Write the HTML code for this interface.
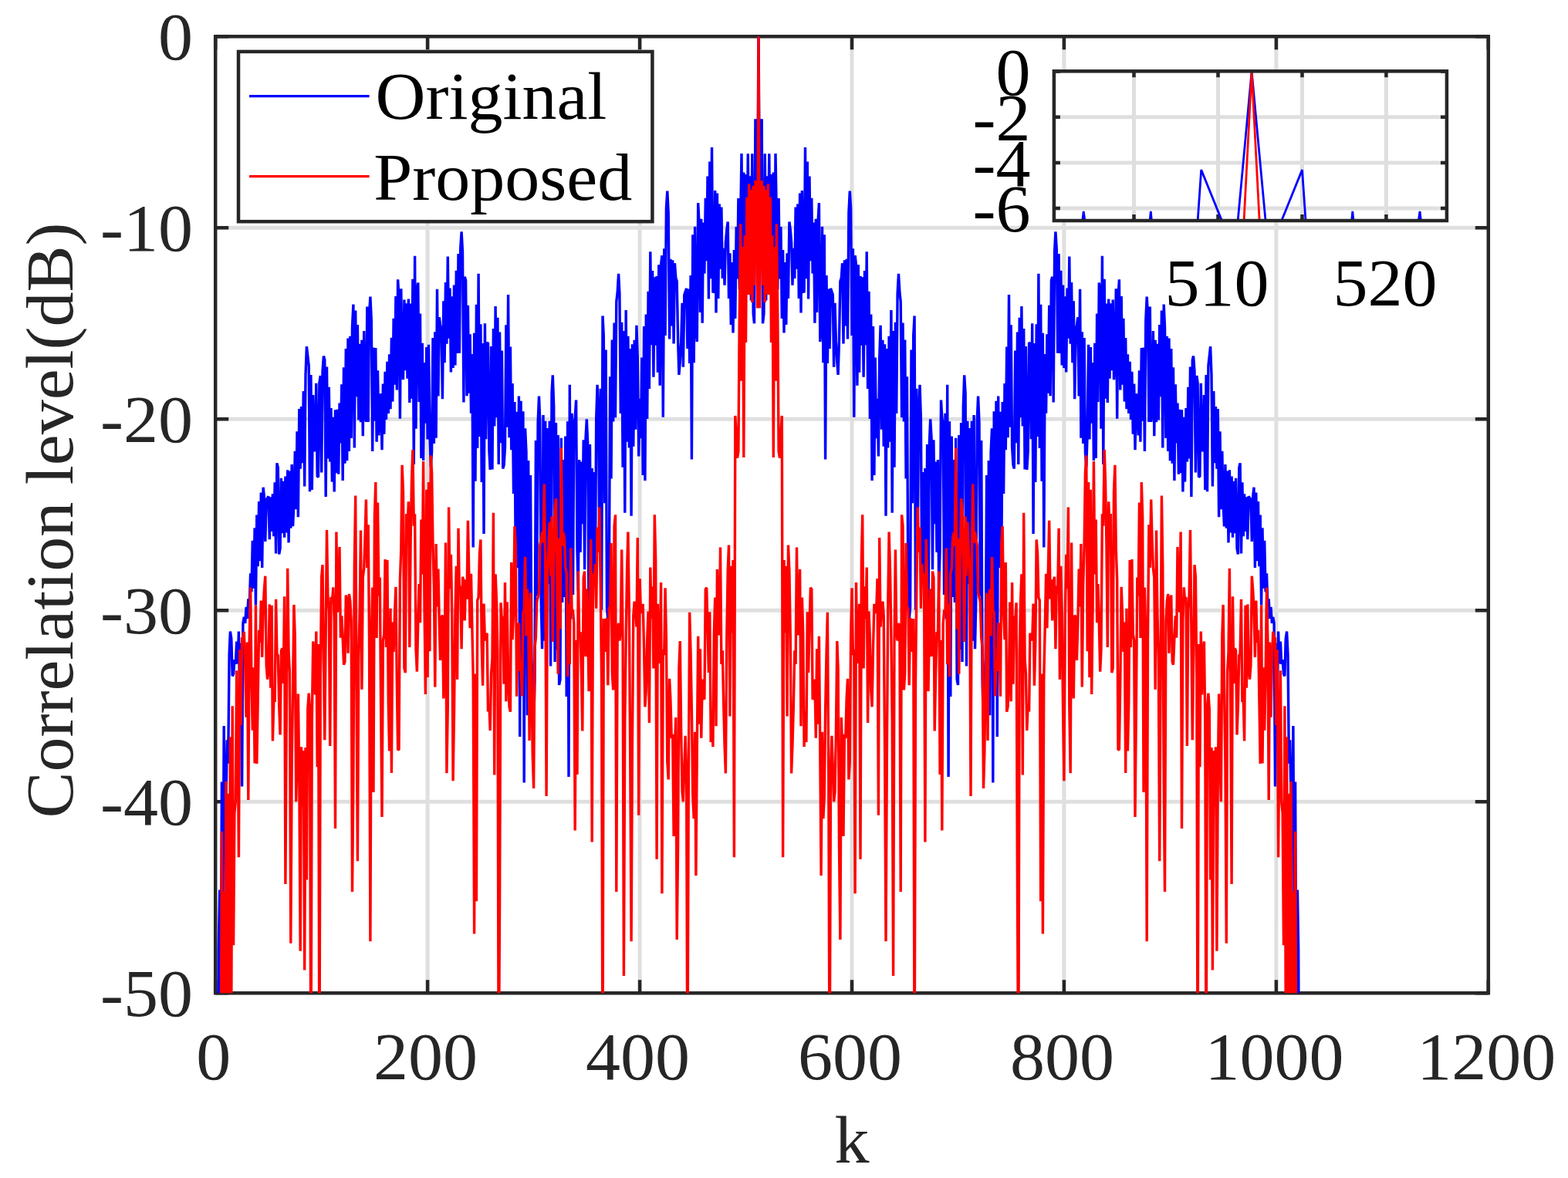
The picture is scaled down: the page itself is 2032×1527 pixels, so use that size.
<!DOCTYPE html>
<html><head><meta charset="utf-8"><title>Correlation level</title>
<style>
html,body{margin:0;padding:0;background:#fff;overflow:hidden;}
svg{display:block;}
text{font-family:"Liberation Serif","Times New Roman",serif;}
</style></head><body>
<svg width="2032" height="1527" viewBox="0 0 2032 1527">
<rect width="2032" height="1527" fill="#fff"/>
<defs><clipPath id="c1"><rect x="279.2" y="47.3" width="1649.6" height="1240.0"/></clipPath><clipPath id="c2"><rect x="1365.9" y="92.3" width="509.0" height="193.7"/></clipPath><filter id="bl" x="-2%" y="-2%" width="104%" height="104%"><feGaussianBlur stdDeviation="0.6"/></filter></defs>
<path d="M554.1 47.3V1287.3M829.1 47.3V1287.3M1104.0 47.3V1287.3M1378.9 47.3V1287.3M1653.9 47.3V1287.3M279.2 295.3H1928.8M279.2 543.3H1928.8M279.2 791.3H1928.8M279.2 1039.3H1928.8" stroke="#dfdfdf" stroke-width="5.0" fill="none"/>
<path d="M279.2 1287.3v-17M279.2 47.3v17M554.1 1287.3v-17M554.1 47.3v17M829.1 1287.3v-17M829.1 47.3v17M1104.0 1287.3v-17M1104.0 47.3v17M1378.9 1287.3v-17M1378.9 47.3v17M1653.9 1287.3v-17M1653.9 47.3v17M1928.8 1287.3v-17M1928.8 47.3v17M279.2 47.3h17M1928.8 47.3h-17M279.2 295.3h17M1928.8 295.3h-17M279.2 543.3h17M1928.8 543.3h-17M279.2 791.3h17M1928.8 791.3h-17M279.2 1039.3h17M1928.8 1039.3h-17M279.2 1287.3h17M1928.8 1287.3h-17" stroke="#262626" stroke-width="4.5" fill="none"/>
<rect x="279.2" y="47.3" width="1649.6" height="1240.0" fill="none" stroke="#262626" stroke-width="4.5"/>
<g clip-path="url(#c1)"><g filter="url(#bl)" fill="none" stroke-width="3.4" stroke-linejoin="miter" stroke-miterlimit="2">
<polyline stroke="#0000ff" points="280.6,1606.3 281.9,1590.3 283.3,1231.9 284.7,1153.5 286.1,1360.7 287.4,1013.4 288.8,1196.1 290.2,941.0 291.6,1097.6 292.9,1039.3 294.3,959.4 295.7,989.7 297.1,848.1 298.4,818.6 299.8,828.0 301.2,876.3 302.6,873.8 303.9,855.2 305.3,860.8 306.7,831.6 308.1,860.3 309.4,818.6 310.8,915.3 312.2,833.7 313.6,1019.5 314.9,808.0 316.3,799.9 317.7,808.0 319.1,786.8 320.4,801.9 321.8,776.4 323.2,786.6 324.6,743.3 325.9,767.3 327.3,700.9 328.7,762.8 330.1,684.4 331.4,784.5 332.8,667.4 334.2,734.3 335.6,650.1 336.9,727.2 338.3,638.6 339.7,736.0 341.1,631.7 342.4,644.2 343.8,702.0 345.2,648.1 346.6,645.3 347.9,643.4 349.3,699.2 350.7,644.2 352.1,689.0 353.4,640.4 354.8,695.1 356.2,625.4 357.6,717.5 358.9,600.3 360.3,606.1 361.7,718.5 363.1,710.8 364.4,619.7 365.8,691.3 367.2,623.7 368.6,696.8 369.9,617.6 371.3,690.4 372.7,609.4 374.1,703.4 375.4,610.5 376.8,684.8 378.2,602.0 379.6,682.3 380.9,652.5 382.3,584.7 383.7,660.1 385.0,559.2 386.4,670.2 387.8,530.1 389.2,607.8 390.5,527.0 391.9,600.3 393.3,507.1 394.7,630.4 396.0,486.0 397.4,449.1 398.8,461.4 400.2,474.2 401.5,637.2 402.9,485.9 404.3,635.1 405.7,512.0 407.0,585.1 408.4,581.8 409.8,496.8 411.2,617.2 412.5,618.4 413.9,496.1 415.3,487.0 416.7,612.4 418.0,481.2 419.4,461.5 420.8,466.6 422.2,644.0 423.5,475.4 424.9,594.5 426.3,501.8 427.7,598.6 429.0,529.1 430.4,624.6 431.8,540.8 433.2,637.5 434.5,531.3 435.9,613.3 437.3,530.7 438.7,614.6 440.0,522.6 441.4,574.5 442.8,498.3 444.2,622.9 445.5,476.2 446.9,600.8 448.3,452.0 449.7,597.2 451.0,438.6 452.4,584.9 453.8,435.7 455.2,568.0 456.5,423.6 457.9,394.5 459.3,580.6 460.7,402.4 462.0,514.3 463.4,421.1 464.8,544.5 466.2,445.7 467.5,547.2 468.9,440.8 470.3,565.3 471.7,429.1 473.0,536.0 474.4,546.8 475.8,397.4 477.2,547.0 478.5,407.5 479.9,384.6 481.3,415.2 482.7,585.1 484.0,450.5 485.4,545.6 486.8,451.0 488.1,572.8 489.5,480.3 490.9,564.4 492.3,523.5 493.6,510.2 495.0,583.1 496.4,497.5 497.8,562.7 499.1,481.9 500.5,543.9 501.9,468.9 503.3,536.0 504.6,459.3 506.0,530.2 507.4,437.9 508.8,520.6 510.1,412.8 511.5,498.8 512.9,384.0 514.3,505.6 515.6,362.3 517.0,385.5 518.4,542.7 519.8,374.3 521.1,470.2 522.5,492.2 523.9,388.5 525.3,480.1 526.6,393.2 528.0,490.7 529.4,387.4 530.8,522.1 532.1,393.4 533.5,516.7 534.9,361.7 536.3,602.0 537.6,331.8 539.0,555.7 540.4,376.2 541.8,366.6 543.1,520.9 544.5,406.5 545.9,594.1 547.3,444.8 548.6,597.1 550.0,470.1 551.4,548.6 552.8,450.0 554.1,569.5 555.5,446.7 556.9,561.1 558.3,605.3 559.6,585.6 561.0,437.9 562.4,575.1 563.8,430.3 565.1,567.8 566.5,374.7 567.9,513.4 569.3,411.3 570.6,422.0 572.0,427.2 573.4,517.2 574.8,390.3 576.1,470.2 577.5,366.0 578.9,445.8 580.3,332.5 581.6,438.7 583.0,373.4 584.4,482.6 585.8,384.3 587.1,477.1 588.5,369.5 589.9,473.4 591.3,350.7 592.6,458.0 594.0,329.1 595.4,457.8 596.7,322.3 598.1,300.3 599.5,326.7 600.9,521.4 602.2,358.8 603.6,363.5 605.0,513.3 606.4,395.8 607.7,509.6 609.1,433.3 610.5,535.7 611.9,459.1 613.2,709.5 614.6,431.7 616.0,623.8 617.4,394.7 618.7,580.9 620.1,354.8 621.5,566.0 622.9,420.3 624.2,625.1 625.6,444.9 627.0,692.1 628.4,419.3 629.7,569.3 631.1,444.2 632.5,445.2 633.9,584.8 635.2,608.9 636.6,448.9 638.0,608.5 639.4,426.0 640.7,552.4 642.1,397.0 643.5,541.3 644.9,411.7 646.2,602.1 647.6,430.4 649.0,574.2 650.4,454.5 651.7,607.6 653.1,602.8 654.5,579.4 655.9,421.2 657.2,553.7 658.6,382.1 660.0,567.2 661.4,449.6 662.7,583.3 664.1,497.0 665.5,640.0 666.9,521.0 668.2,725.1 669.6,533.7 671.0,736.1 672.4,513.5 673.7,955.0 675.1,519.8 676.5,856.2 677.9,533.3 679.2,1014.5 680.6,555.3 682.0,585.7 683.4,927.3 684.7,597.1 686.1,862.2 687.5,616.1 688.9,853.9 690.2,882.2 691.6,940.1 693.0,881.2 694.4,571.1 695.7,772.8 697.1,548.0 698.5,513.5 699.8,546.1 701.2,779.7 702.6,841.3 704.0,537.9 705.3,830.8 706.7,545.8 708.1,771.9 709.5,555.1 710.8,757.1 712.2,545.7 713.6,863.4 715.0,509.8 716.3,486.3 717.7,526.3 719.1,858.1 720.5,548.0 721.8,841.9 723.2,563.9 724.6,888.0 726.0,880.8 727.3,567.8 728.7,781.0 730.1,596.0 731.5,774.1 732.8,565.5 734.2,902.9 735.6,546.2 737.0,1007.1 738.3,498.7 739.7,802.5 741.1,535.8 742.5,770.9 743.8,550.6 745.2,541.0 746.6,518.5 748.0,712.7 749.3,766.5 750.7,596.0 752.1,715.9 753.5,598.5 754.8,679.2 756.2,570.3 757.6,738.3 759.0,567.8 760.3,543.3 761.7,573.7 763.1,811.5 764.5,576.1 765.8,784.5 767.2,607.1 768.6,749.3 770.0,612.1 771.3,752.4 772.7,542.4 774.1,498.7 775.5,543.2 776.8,705.7 778.2,503.8 779.6,790.6 781.0,409.4 782.3,435.0 783.7,652.2 785.1,453.4 786.5,787.4 787.8,802.5 789.2,782.1 790.6,488.2 792.0,620.6 793.3,440.4 794.7,546.4 796.1,418.6 797.5,541.3 798.8,390.8 800.2,378.8 801.6,354.8 802.9,380.1 804.3,535.9 805.7,417.8 807.1,605.7 808.4,428.9 809.8,664.8 811.2,401.9 812.6,572.7 813.9,435.8 815.3,580.4 816.7,451.9 818.1,668.7 819.4,446.3 820.8,578.7 822.2,440.8 823.6,556.7 824.9,421.8 826.3,463.8 827.7,591.5 829.1,516.7 830.4,568.1 831.8,463.5 833.2,615.9 834.6,423.0 835.9,623.0 837.3,407.5 838.7,543.0 840.1,377.8 841.4,503.9 842.8,326.3 844.2,447.3 845.6,350.9 846.9,488.8 848.3,359.3 849.7,447.6 851.1,357.9 852.4,482.7 853.8,343.2 855.2,499.8 856.6,343.1 857.9,331.2 859.3,540.8 860.7,322.2 862.1,434.9 863.4,269.9 864.8,247.7 866.2,275.6 867.6,439.6 868.9,335.7 870.3,422.5 871.7,337.2 873.1,445.5 874.4,341.2 875.8,360.4 877.2,364.6 878.6,440.7 879.9,485.9 881.3,468.9 882.7,442.9 884.1,392.8 885.4,475.8 886.8,382.1 888.2,378.0 889.6,373.9 890.9,451.9 892.3,374.4 893.7,470.9 895.1,356.9 896.4,595.4 897.8,304.3 899.2,470.3 900.6,293.8 901.9,424.9 903.3,443.1 904.7,263.1 906.0,288.2 907.4,404.9 908.8,283.8 910.2,418.7 911.5,288.5 912.9,354.6 914.3,256.7 915.7,338.1 917.0,228.5 918.4,387.4 919.8,209.4 921.2,361.3 922.5,191.1 923.9,378.0 925.3,378.3 926.7,246.9 928.0,405.4 929.4,250.4 930.8,387.1 932.2,264.4 933.5,348.8 934.9,268.6 936.3,361.0 937.7,321.7 939.0,369.8 940.4,314.2 941.8,297.9 943.2,287.4 944.5,386.9 945.9,328.3 947.3,420.9 948.7,340.1 950.0,431.4 951.4,323.9 952.8,412.9 954.2,294.1 955.5,361.4 956.9,257.1 958.3,375.3 959.7,282.9 961.0,199.1 962.4,357.3 963.8,223.4 965.2,382.1 966.5,225.9 967.9,357.3 969.3,199.3 970.7,332.5 972.0,228.3 973.4,389.5 974.8,199.3 976.2,406.9 977.5,419.3 978.9,154.2 980.3,199.3 981.7,244.5 983.0,47.3 984.4,244.5 985.8,199.3 987.2,154.2 988.5,419.3 989.9,406.9 991.3,199.3 992.7,389.5 994.0,228.3 995.4,332.5 996.8,199.3 998.2,357.3 999.5,225.9 1000.9,382.1 1002.3,223.4 1003.7,357.3 1005.0,199.1 1006.4,282.9 1007.8,375.3 1009.1,257.1 1010.5,361.4 1011.9,294.1 1013.3,412.9 1014.6,323.9 1016.0,431.4 1017.4,340.1 1018.8,420.9 1020.1,328.3 1021.5,386.9 1022.9,287.4 1024.3,297.9 1025.6,314.2 1027.0,369.8 1028.4,321.7 1029.8,361.0 1031.1,268.6 1032.5,348.8 1033.9,264.4 1035.3,387.1 1036.6,250.4 1038.0,405.4 1039.4,246.9 1040.8,378.3 1042.1,378.0 1043.5,191.1 1044.9,361.3 1046.3,209.4 1047.6,387.4 1049.0,228.5 1050.4,338.1 1051.8,256.7 1053.1,354.6 1054.5,288.5 1055.9,418.7 1057.3,283.8 1058.6,404.9 1060.0,288.2 1061.4,263.1 1062.8,443.1 1064.1,424.9 1065.5,293.8 1066.9,470.3 1068.3,304.3 1069.6,595.4 1071.0,356.9 1072.4,470.9 1073.8,374.4 1075.1,451.9 1076.5,373.9 1077.9,378.0 1079.3,382.1 1080.6,475.8 1082.0,392.8 1083.4,442.9 1084.8,468.9 1086.1,485.9 1087.5,440.7 1088.9,364.6 1090.3,360.4 1091.6,341.2 1093.0,445.5 1094.4,337.2 1095.8,422.5 1097.1,335.7 1098.5,439.6 1099.9,275.6 1101.3,247.7 1102.6,269.9 1104.0,434.9 1105.4,322.2 1106.8,540.8 1108.1,331.2 1109.5,343.1 1110.9,499.8 1112.3,343.2 1113.6,482.7 1115.0,357.9 1116.4,447.6 1117.7,359.3 1119.1,488.8 1120.5,350.9 1121.9,447.3 1123.2,326.3 1124.6,503.9 1126.0,377.8 1127.4,543.0 1128.7,407.5 1130.1,623.0 1131.5,423.0 1132.9,615.9 1134.2,463.5 1135.6,568.1 1137.0,516.7 1138.4,591.5 1139.7,463.8 1141.1,421.8 1142.5,556.7 1143.9,440.8 1145.2,578.7 1146.6,446.3 1148.0,668.7 1149.4,451.9 1150.7,580.4 1152.1,435.8 1153.5,572.7 1154.9,401.9 1156.2,664.8 1157.6,428.9 1159.0,605.7 1160.4,417.8 1161.7,535.9 1163.1,380.1 1164.5,354.8 1165.9,378.8 1167.2,390.8 1168.6,541.3 1170.0,418.6 1171.4,546.4 1172.7,440.4 1174.1,620.6 1175.5,488.2 1176.9,782.1 1178.2,802.5 1179.6,787.4 1181.0,453.4 1182.4,652.2 1183.7,435.0 1185.1,409.4 1186.5,790.6 1187.9,503.8 1189.2,705.7 1190.6,543.2 1192.0,498.7 1193.4,542.4 1194.7,752.4 1196.1,612.1 1197.5,749.3 1198.9,607.1 1200.2,784.5 1201.6,576.1 1203.0,811.5 1204.4,573.7 1205.7,543.3 1207.1,567.8 1208.5,738.3 1209.9,570.3 1211.2,679.2 1212.6,598.5 1214.0,715.9 1215.4,596.0 1216.7,766.5 1218.1,712.7 1219.5,518.5 1220.8,541.0 1222.2,550.6 1223.6,770.9 1225.0,535.8 1226.3,802.5 1227.7,498.7 1229.1,1007.1 1230.5,546.2 1231.8,902.9 1233.2,565.5 1234.6,774.1 1236.0,596.0 1237.3,781.0 1238.7,567.8 1240.1,880.8 1241.5,888.0 1242.8,563.9 1244.2,841.9 1245.6,548.0 1247.0,858.1 1248.3,526.3 1249.7,486.3 1251.1,509.8 1252.5,863.4 1253.8,545.7 1255.2,757.1 1256.6,555.1 1258.0,771.9 1259.3,545.8 1260.7,830.8 1262.1,537.9 1263.5,841.3 1264.8,779.7 1266.2,546.1 1267.6,513.5 1269.0,548.0 1270.3,772.8 1271.7,571.1 1273.1,881.2 1274.5,940.1 1275.8,882.2 1277.2,853.9 1278.6,616.1 1280.0,862.2 1281.3,597.1 1282.7,927.3 1284.1,585.7 1285.5,555.3 1286.8,1014.5 1288.2,533.3 1289.6,856.2 1291.0,519.8 1292.3,955.0 1293.7,513.5 1295.1,736.1 1296.5,533.7 1297.8,725.1 1299.2,521.0 1300.6,640.0 1302.0,497.0 1303.3,583.3 1304.7,449.6 1306.1,567.2 1307.5,382.1 1308.8,553.7 1310.2,421.2 1311.6,579.4 1313.0,602.8 1314.3,607.6 1315.7,454.5 1317.1,574.2 1318.5,430.4 1319.8,602.1 1321.2,411.7 1322.6,541.3 1323.9,397.0 1325.3,552.4 1326.7,426.0 1328.1,608.5 1329.4,448.9 1330.8,608.9 1332.2,584.8 1333.6,445.2 1334.9,444.2 1336.3,569.3 1337.7,419.3 1339.1,692.1 1340.4,444.9 1341.8,625.1 1343.2,420.3 1344.6,566.0 1345.9,354.8 1347.3,580.9 1348.7,394.7 1350.1,623.8 1351.4,431.7 1352.8,709.5 1354.2,459.1 1355.6,535.7 1356.9,433.3 1358.3,509.6 1359.7,395.8 1361.1,513.3 1362.4,363.5 1363.8,358.8 1365.2,521.4 1366.6,326.7 1367.9,300.3 1369.3,322.3 1370.7,457.8 1372.1,329.1 1373.4,458.0 1374.8,350.7 1376.2,473.4 1377.6,369.5 1378.9,477.1 1380.3,384.3 1381.7,482.6 1383.1,373.4 1384.4,438.7 1385.8,332.5 1387.2,445.8 1388.6,366.0 1389.9,470.2 1391.3,390.3 1392.7,517.2 1394.1,427.2 1395.4,422.0 1396.8,411.3 1398.2,513.4 1399.6,374.7 1400.9,567.8 1402.3,430.3 1403.7,575.1 1405.1,437.9 1406.4,585.6 1407.8,605.3 1409.2,561.1 1410.6,446.7 1411.9,569.5 1413.3,450.0 1414.7,548.6 1416.1,470.1 1417.4,597.1 1418.8,444.8 1420.2,594.1 1421.6,406.5 1422.9,520.9 1424.3,366.6 1425.7,376.2 1427.0,555.7 1428.4,331.8 1429.8,602.0 1431.2,361.7 1432.5,516.7 1433.9,393.4 1435.3,522.1 1436.7,387.4 1438.0,490.7 1439.4,393.2 1440.8,480.1 1442.2,388.5 1443.5,492.2 1444.9,470.2 1446.3,374.3 1447.7,542.7 1449.0,385.5 1450.4,362.3 1451.8,505.6 1453.2,384.0 1454.5,498.8 1455.9,412.8 1457.3,520.6 1458.7,437.9 1460.0,530.2 1461.4,459.3 1462.8,536.0 1464.2,468.9 1465.5,543.9 1466.9,481.9 1468.3,562.7 1469.7,497.5 1471.0,583.1 1472.4,510.2 1473.8,523.5 1475.2,564.4 1476.5,480.3 1477.9,572.8 1479.3,451.0 1480.7,545.6 1482.0,450.5 1483.4,585.1 1484.8,415.2 1486.2,384.6 1487.5,407.5 1488.9,547.0 1490.3,397.4 1491.7,546.8 1493.0,536.0 1494.4,429.1 1495.8,565.3 1497.2,440.8 1498.5,547.2 1499.9,445.7 1501.3,544.5 1502.7,421.1 1504.0,514.3 1505.4,402.4 1506.8,580.6 1508.2,394.5 1509.5,423.6 1510.9,568.0 1512.3,435.7 1513.7,584.9 1515.0,438.6 1516.4,597.2 1517.8,452.0 1519.2,600.8 1520.5,476.2 1521.9,622.9 1523.3,498.3 1524.7,574.5 1526.0,522.6 1527.4,614.6 1528.8,530.7 1530.1,613.3 1531.5,531.3 1532.9,637.5 1534.3,540.8 1535.6,624.6 1537.0,529.1 1538.4,598.6 1539.8,501.8 1541.1,594.5 1542.5,475.4 1543.9,644.0 1545.3,466.6 1546.6,461.5 1548.0,481.2 1549.4,612.4 1550.8,487.0 1552.1,496.1 1553.5,618.4 1554.9,617.2 1556.3,496.8 1557.6,581.8 1559.0,585.1 1560.4,512.0 1561.8,635.1 1563.1,485.9 1564.5,637.2 1565.9,474.2 1567.3,461.4 1568.6,449.1 1570.0,486.0 1571.4,630.4 1572.8,507.1 1574.1,600.3 1575.5,527.0 1576.9,607.8 1578.3,530.1 1579.6,670.2 1581.0,559.2 1582.4,660.1 1583.8,584.7 1585.1,652.5 1586.5,682.3 1587.9,602.0 1589.3,684.8 1590.6,610.5 1592.0,703.4 1593.4,609.4 1594.8,690.4 1596.1,617.6 1597.5,696.8 1598.9,623.7 1600.3,691.3 1601.6,619.7 1603.0,710.8 1604.4,718.5 1605.8,606.1 1607.1,600.3 1608.5,717.5 1609.9,625.4 1611.3,695.1 1612.6,640.4 1614.0,689.0 1615.4,644.2 1616.8,699.2 1618.1,643.4 1619.5,645.3 1620.9,648.1 1622.3,702.0 1623.6,644.2 1625.0,631.7 1626.4,736.0 1627.8,638.6 1629.1,727.2 1630.5,650.1 1631.9,734.3 1633.2,667.4 1634.6,784.5 1636.0,684.4 1637.4,762.8 1638.7,700.9 1640.1,767.3 1641.5,743.3 1642.9,786.6 1644.2,776.4 1645.6,801.9 1647.0,786.8 1648.4,808.0 1649.7,799.9 1651.1,808.0 1652.5,1019.5 1653.9,833.7 1655.2,915.3 1656.6,818.6 1658.0,860.3 1659.4,831.6 1660.7,860.8 1662.1,855.2 1663.5,873.8 1664.9,876.3 1666.2,828.0 1667.6,818.6 1669.0,848.1 1670.4,989.7 1671.7,959.4 1673.1,1039.3 1674.5,1097.6 1675.9,941.0 1677.2,1196.1 1678.6,1013.4 1680.0,1360.7 1681.4,1153.5 1682.7,1231.9 1684.1,1590.3 1685.5,1606.3"/>
<polyline stroke="#ff0000" points="280.6,1597.3 281.9,1783.3 283.3,1485.7 284.7,1373.5 286.1,1436.1 287.4,1077.8 288.8,1336.9 290.2,1155.8 291.6,1411.3 292.9,1012.9 294.3,1336.9 295.7,1028.7 297.1,1312.1 298.4,955.2 299.8,1312.1 301.2,915.2 302.6,1225.3 303.9,1053.9 305.3,1039.3 306.7,869.2 308.1,941.2 309.4,1111.2 310.8,842.2 312.2,940.1 313.6,827.6 314.9,825.6 316.3,818.8 317.7,860.1 319.1,929.8 320.4,832.5 321.8,1037.0 323.2,829.1 324.6,761.5 325.9,873.7 327.3,946.8 328.7,865.3 330.1,989.6 331.4,784.6 332.8,989.9 334.2,906.4 335.6,816.8 336.9,832.9 338.3,778.6 339.7,851.9 341.1,789.3 342.4,763.8 343.8,746.7 345.2,862.9 346.6,880.6 347.9,865.3 349.3,783.4 350.7,891.8 352.1,784.8 353.4,960.5 354.8,908.8 356.2,908.6 357.6,776.7 358.9,846.9 360.3,849.8 361.7,915.3 363.1,952.5 364.4,843.7 365.8,840.2 367.2,886.0 368.6,773.2 369.9,1145.9 371.3,928.5 372.7,736.7 374.1,845.9 375.4,870.9 376.8,1222.8 378.2,986.7 379.6,892.1 380.9,783.9 382.3,825.9 383.7,1039.3 385.0,989.5 386.4,899.4 387.8,1008.4 389.2,1232.7 390.5,968.2 391.9,1045.2 393.3,972.9 394.7,1257.5 396.0,969.0 397.4,1140.5 398.8,919.3 400.2,898.7 401.5,917.7 402.9,1411.3 404.3,936.5 405.7,831.5 407.0,845.8 408.4,900.5 409.8,818.6 411.2,994.2 412.5,835.0 413.9,1411.3 415.3,877.7 416.7,747.9 418.0,732.2 419.4,857.7 420.8,959.2 422.2,819.5 423.5,687.1 424.9,772.5 426.3,790.8 427.7,967.0 429.0,773.9 430.4,780.7 431.8,761.3 433.2,803.7 434.5,1074.0 435.9,689.6 437.3,793.6 438.7,784.2 440.0,709.1 441.4,826.7 442.8,798.4 444.2,827.9 445.5,861.8 446.9,857.9 448.3,771.5 449.7,778.5 451.0,846.8 452.4,769.9 453.8,779.0 455.2,805.3 456.5,1155.9 457.9,1014.5 459.3,733.6 460.7,642.5 462.0,885.8 463.4,1116.2 464.8,852.2 466.2,790.7 467.5,687.4 468.9,893.8 470.3,748.6 471.7,736.5 473.0,698.4 474.4,647.5 475.8,735.9 477.2,680.2 478.5,827.8 479.9,1220.3 481.3,824.9 482.7,761.5 484.0,1026.9 485.4,670.3 486.8,625.1 488.1,827.1 489.5,651.4 490.9,772.6 492.3,748.5 493.6,914.7 495.0,1059.1 496.4,830.1 497.8,822.1 499.1,725.0 500.5,839.0 501.9,726.0 503.3,910.7 504.6,973.5 506.0,788.7 507.4,1002.1 508.8,806.6 510.1,844.9 511.5,795.8 512.9,760.8 514.3,880.6 515.6,972.3 517.0,971.2 518.4,752.5 519.8,711.8 521.1,602.8 522.5,637.2 523.9,866.0 525.3,872.1 526.6,666.0 528.0,686.2 529.4,650.3 530.8,838.9 532.1,702.0 533.5,623.8 534.9,583.0 536.3,681.8 537.6,666.2 539.0,841.3 540.4,870.7 541.8,806.2 543.1,757.1 544.5,807.3 545.9,673.6 547.3,744.4 548.6,597.9 550.0,785.4 551.4,900.0 552.8,634.7 554.1,878.1 555.5,624.9 556.9,844.2 558.3,590.4 559.6,612.5 561.0,705.7 562.4,761.3 563.8,890.5 565.1,705.0 566.5,786.5 567.9,737.5 569.3,809.2 570.6,856.0 572.0,800.2 573.4,797.5 574.8,905.4 576.1,874.4 577.5,703.6 578.9,1002.3 580.3,915.3 581.6,657.4 583.0,763.1 584.4,718.9 585.8,800.7 587.1,1012.3 588.5,922.7 589.9,796.2 591.3,733.7 592.6,880.7 594.0,684.7 595.4,769.0 596.7,759.5 598.1,841.2 599.5,747.7 600.9,753.5 602.2,804.5 603.6,751.3 605.0,776.6 606.4,674.7 607.7,740.0 609.1,814.2 610.5,743.9 611.9,814.9 613.2,878.4 614.6,1210.4 616.0,873.4 617.4,1168.3 618.7,778.0 620.1,774.5 621.5,717.6 622.9,699.5 624.2,834.6 625.6,888.8 627.0,782.6 628.4,830.2 629.7,827.6 631.1,820.7 632.5,922.4 633.9,912.4 635.2,946.9 636.6,872.7 638.0,853.8 639.4,664.8 640.7,1004.6 642.1,744.2 643.5,778.5 644.9,843.4 646.2,1411.3 647.6,1165.8 649.0,781.3 650.4,803.3 651.7,799.0 653.1,886.8 654.5,754.9 655.9,909.2 657.2,780.4 658.6,873.8 660.0,916.0 661.4,922.7 662.7,729.1 664.1,829.1 665.5,796.5 666.9,682.2 668.2,703.9 669.6,902.8 671.0,830.9 672.4,807.6 673.7,869.9 675.1,858.8 676.5,902.2 677.9,794.7 679.2,790.5 680.6,721.9 682.0,824.3 683.4,763.9 684.7,800.4 686.1,960.1 687.5,768.5 688.9,874.3 690.2,977.6 691.6,1021.9 693.0,839.5 694.4,826.3 695.7,780.1 697.1,774.2 698.5,768.3 699.8,707.0 701.2,698.3 702.6,689.2 704.0,703.6 705.3,627.6 706.7,737.6 708.1,1031.9 709.5,740.4 710.8,712.1 712.2,676.7 713.6,746.5 715.0,669.5 716.3,832.1 717.7,727.4 719.1,659.2 720.5,646.3 721.8,737.0 723.2,873.8 724.6,697.8 726.0,815.4 727.3,580.5 728.7,707.6 730.1,690.3 731.5,699.3 732.8,737.0 734.2,742.6 735.6,877.2 737.0,782.5 738.3,861.3 739.7,710.6 741.1,793.1 742.5,792.5 743.8,807.8 745.2,1076.5 746.6,829.8 748.0,1004.1 749.3,740.4 750.7,822.0 752.1,819.2 753.5,874.1 754.8,947.5 756.2,748.6 757.6,740.5 759.0,851.1 760.3,763.4 761.7,809.0 763.1,896.1 764.5,758.3 765.8,699.1 767.2,1091.4 768.6,743.3 770.0,749.7 771.3,731.3 772.7,788.8 774.1,683.6 775.5,715.7 776.8,657.4 778.2,756.0 779.6,882.6 781.0,1411.3 782.3,802.1 783.7,845.0 785.1,803.4 786.5,802.1 787.8,888.2 789.2,789.8 790.6,784.6 792.0,703.9 793.3,872.4 794.7,894.4 796.1,681.6 797.5,667.3 798.8,1155.9 800.2,819.3 801.6,807.8 802.9,830.5 804.3,818.6 805.7,712.5 807.1,832.1 808.4,1265.0 809.8,933.4 811.2,825.9 812.6,738.6 813.9,689.6 815.3,787.7 816.7,973.9 818.1,1220.3 819.4,969.4 820.8,797.7 822.2,779.7 823.6,790.8 824.9,812.6 826.3,697.1 827.7,1056.7 829.1,750.0 830.4,793.6 831.8,793.6 833.2,782.9 834.6,841.1 835.9,916.3 837.3,894.4 838.7,828.6 840.1,792.6 841.4,937.1 842.8,735.6 844.2,802.2 845.6,760.3 846.9,866.4 848.3,667.3 849.7,726.2 851.1,1113.7 852.4,782.8 853.8,859.6 855.2,854.3 856.6,755.1 857.9,1158.3 859.3,841.7 860.7,849.0 862.1,762.2 863.4,827.0 864.8,987.2 866.2,1010.5 867.6,879.8 868.9,905.9 870.3,957.0 871.7,951.8 873.1,1083.9 874.4,970.6 875.8,930.1 877.2,1217.9 878.6,1098.5 879.9,867.0 881.3,831.0 882.7,949.3 884.1,1026.6 885.4,1039.3 886.8,993.8 888.2,953.8 889.6,1008.4 890.9,1411.3 892.3,1013.6 893.7,793.8 895.1,848.3 896.4,921.6 897.8,1031.9 899.2,1061.2 900.6,948.7 901.9,1135.1 903.3,972.3 904.7,824.7 906.0,938.7 907.4,841.3 908.8,956.7 910.2,880.5 911.5,904.7 912.9,906.6 914.3,763.7 915.7,761.8 917.0,811.2 918.4,871.9 919.8,793.3 921.2,962.1 922.5,921.5 923.9,968.1 925.3,822.8 926.7,774.6 928.0,941.3 929.4,737.9 930.8,795.3 932.2,823.5 933.5,709.5 934.9,861.0 936.3,843.2 937.7,912.8 939.0,964.9 940.4,1002.5 941.8,825.8 943.2,739.5 944.5,706.6 945.9,928.4 947.3,733.8 948.7,820.2 950.0,726.0 951.4,1111.2 952.8,538.9 954.2,561.7 955.5,593.8 956.9,585.1 958.3,406.5 959.7,290.3 961.0,493.7 962.4,320.1 963.8,592.9 965.2,305.2 966.5,444.1 967.9,255.6 969.3,382.1 970.7,238.3 972.0,382.1 973.4,245.7 974.8,392.0 976.2,240.7 977.5,369.7 978.9,235.8 980.3,235.8 981.7,399.5 983.0,47.3 984.4,399.5 985.8,235.8 987.2,235.8 988.5,369.7 989.9,240.7 991.3,392.0 992.7,245.7 994.0,382.1 995.4,238.3 996.8,382.1 998.2,255.6 999.5,444.1 1000.9,305.2 1002.3,592.9 1003.7,320.1 1005.0,493.7 1006.4,290.3 1007.8,406.5 1009.1,585.1 1010.5,593.8 1011.9,561.7 1013.3,538.9 1014.6,1111.2 1016.0,726.0 1017.4,820.2 1018.8,733.8 1020.1,928.4 1021.5,706.6 1022.9,739.5 1024.3,825.8 1025.6,1002.5 1027.0,964.9 1028.4,912.8 1029.8,843.2 1031.1,861.0 1032.5,709.5 1033.9,823.5 1035.3,795.3 1036.6,737.9 1038.0,941.3 1039.4,774.6 1040.8,822.8 1042.1,968.1 1043.5,921.5 1044.9,962.1 1046.3,793.3 1047.6,871.9 1049.0,811.2 1050.4,761.8 1051.8,763.7 1053.1,906.6 1054.5,904.7 1055.9,880.5 1057.3,956.7 1058.6,841.3 1060.0,938.7 1061.4,824.7 1062.8,972.3 1064.1,1135.1 1065.5,948.7 1066.9,1061.2 1068.3,1031.9 1069.6,921.6 1071.0,848.3 1072.4,793.8 1073.8,1013.6 1075.1,1411.3 1076.5,1008.4 1077.9,953.8 1079.3,993.8 1080.6,1039.3 1082.0,1026.6 1083.4,949.3 1084.8,831.0 1086.1,867.0 1087.5,1098.5 1088.9,1217.9 1090.3,930.1 1091.6,970.6 1093.0,1083.9 1094.4,951.8 1095.8,957.0 1097.1,905.9 1098.5,879.8 1099.9,1010.5 1101.3,987.2 1102.6,827.0 1104.0,762.2 1105.4,849.0 1106.8,841.7 1108.1,1158.3 1109.5,755.1 1110.9,854.3 1112.3,859.6 1113.6,782.8 1115.0,1113.7 1116.4,726.2 1117.7,667.3 1119.1,866.4 1120.5,760.3 1121.9,802.2 1123.2,735.6 1124.6,937.1 1126.0,792.6 1127.4,828.6 1128.7,894.4 1130.1,916.3 1131.5,841.1 1132.9,782.9 1134.2,793.6 1135.6,793.6 1137.0,750.0 1138.4,1056.7 1139.7,697.1 1141.1,812.6 1142.5,790.8 1143.9,779.7 1145.2,797.7 1146.6,969.4 1148.0,1220.3 1149.4,973.9 1150.7,787.7 1152.1,689.6 1153.5,738.6 1154.9,825.9 1156.2,933.4 1157.6,1265.0 1159.0,832.1 1160.4,712.5 1161.7,818.6 1163.1,830.5 1164.5,807.8 1165.9,819.3 1167.2,1155.9 1168.6,667.3 1170.0,681.6 1171.4,894.4 1172.7,872.4 1174.1,703.9 1175.5,784.6 1176.9,789.8 1178.2,888.2 1179.6,802.1 1181.0,803.4 1182.4,845.0 1183.7,802.1 1185.1,1411.3 1186.5,882.6 1187.9,756.0 1189.2,657.4 1190.6,715.7 1192.0,683.6 1193.4,788.8 1194.7,731.3 1196.1,749.7 1197.5,743.3 1198.9,1091.4 1200.2,699.1 1201.6,758.3 1203.0,896.1 1204.4,809.0 1205.7,763.4 1207.1,851.1 1208.5,740.5 1209.9,748.6 1211.2,947.5 1212.6,874.1 1214.0,819.2 1215.4,822.0 1216.7,740.4 1218.1,1004.1 1219.5,829.8 1220.8,1076.5 1222.2,807.8 1223.6,792.5 1225.0,793.1 1226.3,710.6 1227.7,861.3 1229.1,782.5 1230.5,877.2 1231.8,742.6 1233.2,737.0 1234.6,699.3 1236.0,690.3 1237.3,707.6 1238.7,580.5 1240.1,815.4 1241.5,697.8 1242.8,873.8 1244.2,737.0 1245.6,646.3 1247.0,659.2 1248.3,727.4 1249.7,832.1 1251.1,669.5 1252.5,746.5 1253.8,676.7 1255.2,712.1 1256.6,740.4 1258.0,1031.9 1259.3,737.6 1260.7,627.6 1262.1,703.6 1263.5,689.2 1264.8,698.3 1266.2,707.0 1267.6,768.3 1269.0,774.2 1270.3,780.1 1271.7,826.3 1273.1,839.5 1274.5,1021.9 1275.8,977.6 1277.2,874.3 1278.6,768.5 1280.0,960.1 1281.3,800.4 1282.7,763.9 1284.1,824.3 1285.5,721.9 1286.8,790.5 1288.2,794.7 1289.6,902.2 1291.0,858.8 1292.3,869.9 1293.7,807.6 1295.1,830.9 1296.5,902.8 1297.8,703.9 1299.2,682.2 1300.6,796.5 1302.0,829.1 1303.3,729.1 1304.7,922.7 1306.1,916.0 1307.5,873.8 1308.8,780.4 1310.2,909.2 1311.6,754.9 1313.0,886.8 1314.3,799.0 1315.7,803.3 1317.1,781.3 1318.5,1165.8 1319.8,1411.3 1321.2,843.4 1322.6,778.5 1323.9,744.2 1325.3,1004.6 1326.7,664.8 1328.1,853.8 1329.4,872.7 1330.8,946.9 1332.2,912.4 1333.6,922.4 1334.9,820.7 1336.3,827.6 1337.7,830.2 1339.1,782.6 1340.4,888.8 1341.8,834.6 1343.2,699.5 1344.6,717.6 1345.9,774.5 1347.3,778.0 1348.7,1168.3 1350.1,873.4 1351.4,1210.4 1352.8,878.4 1354.2,814.9 1355.6,743.9 1356.9,814.2 1358.3,740.0 1359.7,674.7 1361.1,776.6 1362.4,751.3 1363.8,804.5 1365.2,753.5 1366.6,747.7 1367.9,841.2 1369.3,759.5 1370.7,769.0 1372.1,684.7 1373.4,880.7 1374.8,733.7 1376.2,796.2 1377.6,922.7 1378.9,1012.3 1380.3,800.7 1381.7,718.9 1383.1,763.1 1384.4,657.4 1385.8,915.3 1387.2,1002.3 1388.6,703.6 1389.9,874.4 1391.3,905.4 1392.7,797.5 1394.1,800.2 1395.4,856.0 1396.8,809.2 1398.2,737.5 1399.6,786.5 1400.9,705.0 1402.3,890.5 1403.7,761.3 1405.1,705.7 1406.4,612.5 1407.8,590.4 1409.2,844.2 1410.6,624.9 1411.9,878.1 1413.3,634.7 1414.7,900.0 1416.1,785.4 1417.4,597.9 1418.8,744.4 1420.2,673.6 1421.6,807.3 1422.9,757.1 1424.3,806.2 1425.7,870.7 1427.0,841.3 1428.4,666.2 1429.8,681.8 1431.2,583.0 1432.5,623.8 1433.9,702.0 1435.3,838.9 1436.7,650.3 1438.0,686.2 1439.4,666.0 1440.8,872.1 1442.2,866.0 1443.5,637.2 1444.9,602.8 1446.3,711.8 1447.7,752.5 1449.0,971.2 1450.4,972.3 1451.8,880.6 1453.2,760.8 1454.5,795.8 1455.9,844.9 1457.3,806.6 1458.7,1002.1 1460.0,788.7 1461.4,973.5 1462.8,910.7 1464.2,726.0 1465.5,839.0 1466.9,725.0 1468.3,822.1 1469.7,830.1 1471.0,1059.1 1472.4,914.7 1473.8,748.5 1475.2,772.6 1476.5,651.4 1477.9,827.1 1479.3,625.1 1480.7,670.3 1482.0,1026.9 1483.4,761.5 1484.8,824.9 1486.2,1220.3 1487.5,827.8 1488.9,680.2 1490.3,735.9 1491.7,647.5 1493.0,698.4 1494.4,736.5 1495.8,748.6 1497.2,893.8 1498.5,687.4 1499.9,790.7 1501.3,852.2 1502.7,1116.2 1504.0,885.8 1505.4,642.5 1506.8,733.6 1508.2,1014.5 1509.5,1155.9 1510.9,805.3 1512.3,779.0 1513.7,769.9 1515.0,846.8 1516.4,778.5 1517.8,771.5 1519.2,857.9 1520.5,861.8 1521.9,827.9 1523.3,798.4 1524.7,826.7 1526.0,709.1 1527.4,784.2 1528.8,793.6 1530.1,689.6 1531.5,1074.0 1532.9,803.7 1534.3,761.3 1535.6,780.7 1537.0,773.9 1538.4,967.0 1539.8,790.8 1541.1,772.5 1542.5,687.1 1543.9,819.5 1545.3,959.2 1546.6,857.7 1548.0,732.2 1549.4,747.9 1550.8,877.7 1552.1,1411.3 1553.5,835.0 1554.9,994.2 1556.3,818.6 1557.6,900.5 1559.0,845.8 1560.4,831.5 1561.8,936.5 1563.1,1411.3 1564.5,917.7 1565.9,898.7 1567.3,919.3 1568.6,1140.5 1570.0,969.0 1571.4,1257.5 1572.8,972.9 1574.1,1045.2 1575.5,968.2 1576.9,1232.7 1578.3,1008.4 1579.6,899.4 1581.0,989.5 1582.4,1039.3 1583.8,825.9 1585.1,783.9 1586.5,892.1 1587.9,986.7 1589.3,1222.8 1590.6,870.9 1592.0,845.9 1593.4,736.7 1594.8,928.5 1596.1,1145.9 1597.5,773.2 1598.9,886.0 1600.3,840.2 1601.6,843.7 1603.0,952.5 1604.4,915.3 1605.8,849.8 1607.1,846.9 1608.5,776.7 1609.9,908.6 1611.3,908.8 1612.6,960.5 1614.0,784.8 1615.4,891.8 1616.8,783.4 1618.1,865.3 1619.5,880.6 1620.9,862.9 1622.3,746.7 1623.6,763.8 1625.0,789.3 1626.4,851.9 1627.8,778.6 1629.1,832.9 1630.5,816.8 1631.9,906.4 1633.2,989.9 1634.6,784.6 1636.0,989.6 1637.4,865.3 1638.7,946.8 1640.1,873.7 1641.5,761.5 1642.9,829.1 1644.2,1037.0 1645.6,832.5 1647.0,929.8 1648.4,860.1 1649.7,818.8 1651.1,825.6 1652.5,827.6 1653.9,940.1 1655.2,842.2 1656.6,1111.2 1658.0,941.2 1659.4,869.2 1660.7,1039.3 1662.1,1053.9 1663.5,1225.3 1664.9,915.2 1666.2,1312.1 1667.6,955.2 1669.0,1312.1 1670.4,1028.7 1671.7,1336.9 1673.1,1012.9 1674.5,1411.3 1675.9,1155.8 1677.2,1336.9 1678.6,1077.8 1680.0,1436.1 1681.4,1373.5 1682.7,1485.7 1684.1,1783.3 1685.5,1597.3"/>
</g></g>
<g fill="#262626" font-size="90">
<text transform="translate(250 77.3) scale(1 0.96)" text-anchor="end">0</text>
<text transform="translate(250 325.3) scale(1 0.96)" text-anchor="end">-10</text>
<text transform="translate(250 573.3) scale(1 0.96)" text-anchor="end">-20</text>
<text transform="translate(250 821.3) scale(1 0.96)" text-anchor="end">-30</text>
<text transform="translate(250 1069.3) scale(1 0.96)" text-anchor="end">-40</text>
<text transform="translate(250 1317.3) scale(1 0.96)" text-anchor="end">-50</text>
<text transform="translate(276.7 1398.5) scale(1 0.96)" text-anchor="middle">0</text>
<text transform="translate(551.6 1398.5) scale(1 0.96)" text-anchor="middle">200</text>
<text transform="translate(826.6 1398.5) scale(1 0.96)" text-anchor="middle">400</text>
<text transform="translate(1101.5 1398.5) scale(1 0.96)" text-anchor="middle">600</text>
<text transform="translate(1376.4 1398.5) scale(1 0.96)" text-anchor="middle">800</text>
<text transform="translate(1651.4 1398.5) scale(1 0.96)" text-anchor="middle">1000</text>
<text transform="translate(1926.3 1398.5) scale(1 0.96)" text-anchor="middle">1200</text>
<text transform="translate(1104 1507) scale(1 0.96)" text-anchor="middle">k</text>
<text transform="translate(93.5 674.5) rotate(-90) scale(1 0.96)" text-anchor="middle">Correlation level(dB)</text>
</g>
<rect x="309" y="66.9" width="536.4" height="220.3" fill="#fff" stroke="#262626" stroke-width="4.5"/>
<path d="M323 124.6H478.6" stroke="#0000ff" stroke-width="3.4"/>
<path d="M323 228.6H478.6" stroke="#ff0000" stroke-width="3.4"/>
<g fill="#000" font-size="90"><text transform="translate(486.5 153.6) scale(1 0.96)">Original</text><text transform="translate(484.2 258.6) scale(1 0.96)">Proposed</text></g>
<rect x="1365.9" y="92.3" width="509.0" height="193.7" fill="#fff"/>
<path d="M1469.5 92.3V286.0M1578.5 92.3V286.0M1687.5 92.3V286.0M1796.4 92.3V286.0M1365.9 151.7H1874.9M1365.9 210.9H1874.9M1365.9 270.1H1874.9" stroke="#dfdfdf" stroke-width="5.0" fill="none"/>
<path d="M1469.5 286.0v-8M1469.5 92.3v8M1578.5 286.0v-8M1578.5 92.3v8M1687.5 286.0v-8M1687.5 92.3v8M1796.4 286.0v-8M1796.4 92.3v8M1365.9 92.5h8M1874.9 92.5h-8M1365.9 151.7h8M1874.9 151.7h-8M1365.9 210.9h8M1874.9 210.9h-8M1365.9 270.1h8M1874.9 270.1h-8" stroke="#262626" stroke-width="4.5" fill="none"/>
<g clip-path="url(#c2)"><g filter="url(#bl)" fill="none" stroke-width="2.8">
<polyline stroke="#0000ff" points="1295.2,462.5 1317.0,302.7 1338.8,492.1 1360.6,305.6 1382.4,462.5 1404.2,273.9 1426.0,432.9 1447.8,308.6 1469.5,501.0 1491.3,273.9 1513.1,521.7 1534.9,536.5 1556.7,220.1 1578.5,273.9 1600.3,327.8 1622.1,92.5 1643.9,327.8 1665.7,273.9 1687.5,220.1 1709.2,536.5 1731.0,521.7 1752.8,273.9 1774.6,501.0 1796.4,308.6 1818.2,432.9 1840.0,273.9 1861.8,462.5 1883.6,305.6 1905.3,492.1 1927.1,302.7 1948.9,462.5"/>
<polyline stroke="#ff0000" points="1295.2,418.1 1317.0,743.7 1338.8,400.3 1360.6,566.1 1382.4,341.1 1404.2,492.1 1426.0,320.4 1447.8,492.1 1469.5,329.3 1491.3,503.9 1513.1,323.4 1534.9,477.3 1556.7,317.5 1578.5,317.5 1600.3,512.8 1622.1,92.5 1643.9,512.8 1665.7,317.5 1687.5,317.5 1709.2,477.3 1731.0,323.4 1752.8,503.9 1774.6,329.3 1796.4,492.1 1818.2,320.4 1840.0,492.1 1861.8,341.1 1883.6,566.1 1905.3,400.3 1927.1,743.7 1948.9,418.1"/>
</g></g>
<rect x="1365.9" y="92.3" width="509.0" height="193.7" fill="none" stroke="#262626" stroke-width="4.5"/>
<g fill="#000" font-size="90">
<text transform="translate(1335.5 122.5) scale(1 0.96)" text-anchor="end">0</text>
<text transform="translate(1335.5 181.7) scale(1 0.96)" text-anchor="end">-2</text>
<text transform="translate(1335.5 240.9) scale(1 0.96)" text-anchor="end">-4</text>
<text transform="translate(1335.5 300.1) scale(1 0.96)" text-anchor="end">-6</text>
<text transform="translate(1577.0 396) scale(1 0.96)" text-anchor="middle">510</text>
<text transform="translate(1794.9 396) scale(1 0.96)" text-anchor="middle">520</text>
</g>
</svg>
</body></html>
